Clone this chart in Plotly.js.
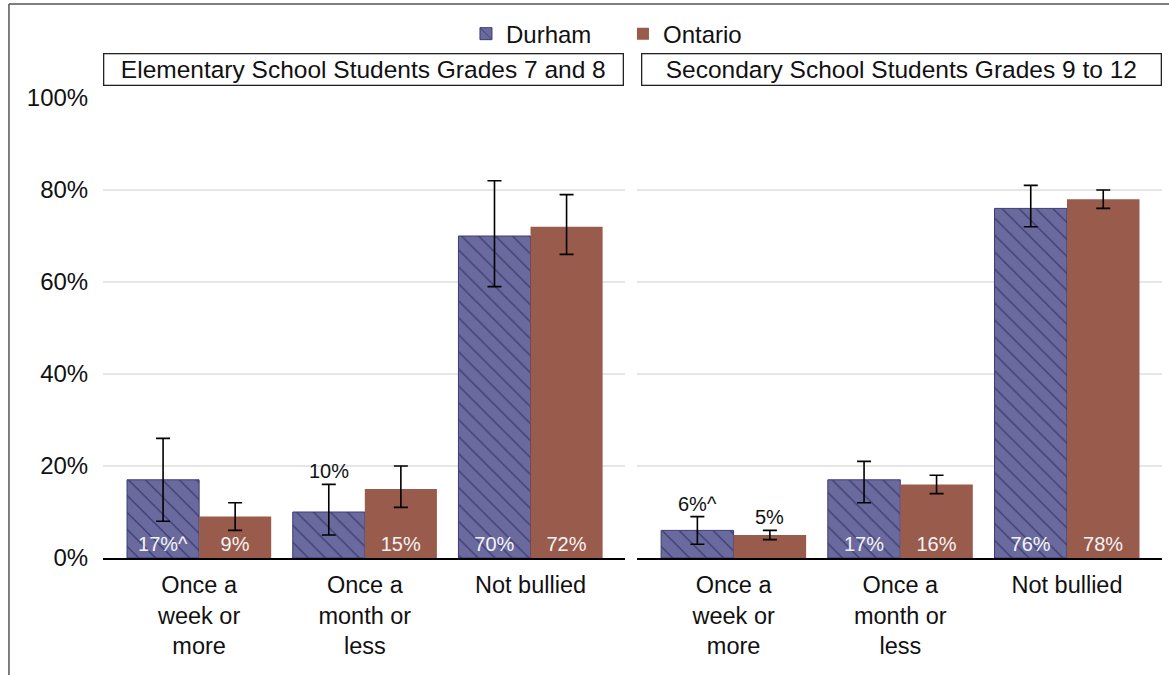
<!DOCTYPE html>
<html>
<head>
<meta charset="utf-8">
<script src="https://cdn.plot.ly/plotly-3.0.1.min.js"></script>
<style>html,body{margin:0;padding:0;background:#fff;}#chart{width:1169px;height:675px;}</style>
</head>
<body>
<div id="chart"></div>
<script>
// ---- data ----
const categories = ['Once a<br>week or<br>more', 'Once a<br>month or<br>less', 'Not bullied'];
const panelTitles = ['Elementary School Students Grades 7 and 8', 'Secondary School Students Grades 9 to 12'];
const seriesNames = ['Durham', 'Ontario'];

const elemDurham = [17, 10, 70];
const elemDurhamLow = [8, 5, 59];
const elemDurhamHigh = [26, 16, 82];
const elemDurhamLabels = ['17%^', '10%', '70%'];
const elemDurhamInside = [true, false, true];

const elemOntario = [9, 15, 72];
const elemOntarioLow = [6, 11, 66];
const elemOntarioHigh = [12, 20, 79];
const elemOntarioLabels = ['9%', '15%', '72%'];
const elemOntarioInside = [true, true, true];

const secDurham = [6, 17, 76];
const secDurhamLow = [3, 12, 72];
const secDurhamHigh = [9, 21, 81];
const secDurhamLabels = ['6%^', '17%', '76%'];
const secDurhamInside = [false, true, true];

const secOntario = [5, 16, 78];
const secOntarioLow = [4, 14, 76];
const secOntarioHigh = [6, 18, 80];
const secOntarioLabels = ['5%', '16%', '78%'];
const secOntarioInside = [false, true, true];

const yTickVals = [0, 20, 40, 60, 80, 100];
const yTickText = ['0%', '20%', '40%', '60%', '80%', '100%'];

// ---- styles ----
const FONT = 'Liberation Sans, Arial, sans-serif';
const durhamColor = '#6a6a9f';
const durhamHatch = '#34346a';
const ontarioColor = '#995b4c';

function makeTrace(name, vals, low, high, labels, inside, xa, ya, showlegend) {
  const isD = name === 'Durham';
  return {
    type: 'bar', name: name, x: categories, y: vals,
    xaxis: xa, yaxis: ya, showlegend: showlegend, legendgroup: name,
    offsetgroup: name,
    text: labels.map((l, i) => inside[i] ? l : ''),
    textposition: inside.map(v => v ? 'inside' : 'none'),
    insidetextanchor: 'start',
    textangle: 0,
    textfont: {family: FONT, size: 20, color: '#f4f4f4'},
    cliponaxis: false,
    marker: isD ? {
      color: durhamColor,
      line: {color: '#3c3c72', width: 1},
      pattern: {shape: '\\', fgcolor: durhamHatch, bgcolor: durhamColor, fillmode: 'replace', size: 12, solidity: 0.1}
    } : {color: ontarioColor, line: {width: 0}},
    error_y: {
      type: 'data', symmetric: false,
      array: high.map((h, i) => h - vals[i]),
      arrayminus: low.map((l, i) => vals[i] - l),
      color: '#000000', thickness: 1.6, width: 7
    },
    hoverinfo: 'skip'
  };
}

const data = [
  makeTrace('Durham', elemDurham, elemDurhamLow, elemDurhamHigh, elemDurhamLabels, elemDurhamInside, 'x', 'y', true),
  makeTrace('Ontario', elemOntario, elemOntarioLow, elemOntarioHigh, elemOntarioLabels, elemOntarioInside, 'x', 'y', true),
  makeTrace('Durham', secDurham, secDurhamLow, secDurhamHigh, secDurhamLabels, secDurhamInside, 'x2', 'y2', false),
  makeTrace('Ontario', secOntario, secOntarioLow, secOntarioHigh, secOntarioLabels, secOntarioInside, 'x2', 'y2', false)
];

// outside labels above error bars
const annotations = [];
function addOutside(labels, inside, high, xref, yref, shift) {
  labels.forEach((l, i) => {
    if (!inside[i]) {
      annotations.push({
        x: categories[i], y: high[i], xref: xref, yref: yref,
        text: l, showarrow: false, xanchor: 'center', yanchor: 'bottom',
        xshift: shift, yshift: 0,
        font: {family: FONT, size: 20, color: '#111111'}
      });
    }
  });
}
addOutside(elemDurhamLabels, elemDurhamInside, elemDurhamHigh, 'x', 'y', -36);
addOutside(elemOntarioLabels, elemOntarioInside, elemOntarioHigh, 'x', 'y', 36);
addOutside(secDurhamLabels, secDurhamInside, secDurhamHigh, 'x2', 'y2', -36);
addOutside(secOntarioLabels, secOntarioInside, secOntarioHigh, 'x2', 'y2', 36);

const domL = [0, 0.4929];
const domR = [0.5042, 1];
[domL, domR].forEach((d, k) => {
  annotations.push({
    xref: 'paper', yref: 'paper', x: (d[0] + d[1]) / 2 + (k === 1 ? 0.0015 : 0), y: 1.063,
    xanchor: 'center', yanchor: 'middle', showarrow: false,
    text: panelTitles[k], width: 516, height: 28, borderpad: 1,
    bordercolor: '#222222', borderwidth: 1.3, bgcolor: '#ffffff',
    font: {family: FONT, size: 24.5, color: '#111111'}
  });
});

const xaxisBase = {
  type: 'category', range: [-0.58, 2.57], showgrid: false, zeroline: false,
  showline: true, linecolor: '#000000', linewidth: 2,
  ticks: 'outside', ticklen: 5, tickcolor: 'rgba(0,0,0,0)', tickangle: 0,
  tickfont: {family: FONT, size: 23.5, color: '#111111'}, fixedrange: true, automargin: false
};
const yaxisBase = {
  range: [0, 100], tickvals: yTickVals, ticktext: yTickText,
  showgrid: true, gridcolor: '#e6e6e6', gridwidth: 2.5,
  zeroline: false, showline: false,
  ticks: 'outside', ticklen: 9, tickcolor: 'rgba(0,0,0,0)',
  tickfont: {family: FONT, size: 24, color: '#111111'}, fixedrange: true, automargin: false
};

const layout = {
  width: 1169, height: 675,
  margin: {l: 103, r: 7, t: 98, b: 117, autoexpand: false},
  paper_bgcolor: '#ffffff', plot_bgcolor: '#ffffff',
  barmode: 'group', bargap: 0.13, bargroupgap: 0,
  font: {family: FONT, color: '#111111'},
  showlegend: true,
  legend: {
    orientation: 'h', x: 0.491, xanchor: 'center',
    y: 1.139, yanchor: 'middle',
    font: {family: FONT, size: 24, color: '#111111'},
    entrywidth: 112,
    tracegroupgap: 0, bgcolor: 'rgba(0,0,0,0)'
  },
  xaxis: Object.assign({}, xaxisBase, {domain: domL, anchor: 'y'}),
  xaxis2: Object.assign({}, xaxisBase, {domain: domR, anchor: 'y2'}),
  yaxis: Object.assign({}, yaxisBase, {anchor: 'x'}),
  yaxis2: Object.assign({}, yaxisBase, {anchor: 'x2', matches: 'y', showticklabels: false}),
  annotations: annotations,
  shapes: [
    {type: 'line', xref: 'paper', yref: 'paper', x0: -0.0888, x1: -0.0888, y0: -0.3, y1: 1.2043,
     line: {color: '#555555', width: 1.5}},
    {type: 'line', xref: 'paper', yref: 'paper', x0: -0.0888, x1: 1.1, y0: 1.2043, y1: 1.2043,
     line: {color: '#555555', width: 1.5}}
  ]
};

Plotly.newPlot('chart', data, layout, {displayModeBar: false, staticPlot: true});
</script>
</body>
</html>
